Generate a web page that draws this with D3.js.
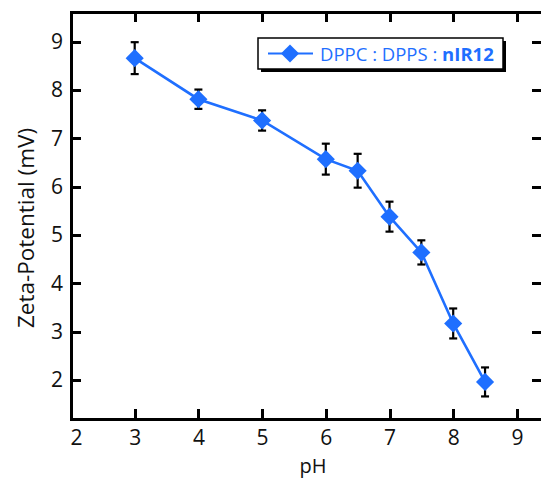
<!DOCTYPE html>
<html>
<head>
<meta charset="utf-8">
<script src="https://cdn.jsdelivr.net/npm/d3@7"></script>
<style>
  html, body { margin: 0; padding: 0; background: #fff; }
  svg text { font-family: "Open Sans", "DejaVu Sans", sans-serif; }
</style>
</head>
<body>
<svg id="chart" width="541" height="479"></svg>
<script>
/* ── Data ───────────────────────────────────────────── */
const pH     = [3, 4, 5, 6, 6.5, 7, 7.5, 8, 8.5];
const zeta   = [8.66, 7.81, 7.37, 6.57, 6.33, 5.38, 4.64, 3.17, 1.96];
const zetaSd = [0.33, 0.20, 0.21, 0.32, 0.35, 0.31, 0.25, 0.31, 0.30];
const xTicks = [2, 3, 4, 5, 6, 7, 8, 9];
const yTicks = [2, 3, 4, 5, 6, 7, 8, 9];
const seriesLabel = ['DPPC : DPPS : ', 'nIR12'];

const BLUE = '#1f6fff';
const TICK = 10;

const svg = d3.select('#chart');

const plot = { left: 71, right: 542, top: 12, bottom: 419 };

const x = d3.scaleLinear().domain([2, 2 + (plot.right - plot.left) / 63.7]).range([plot.left, plot.right]);
const y = d3.scaleLinear().domain([2, 9]).range([380, 41.7]);

const pts = pH.map((p, i) => ({ p, z: zeta[i], e: zetaSd[i] }));

/* ── Axis labels (d3 axes, no lines) ─────────────────── */
const styleAxis = g => {
  g.select('.domain').remove();
  g.selectAll('.tick line').remove();
  g.selectAll('.tick text').attr('fill', '#111').attr('font-size', 21);
};

svg.append('g')
  .attr('transform', `translate(0,${plot.bottom})`)
  .call(d3.axisBottom(x).tickValues(xTicks).tickSize(0).tickPadding(11).tickFormat(d3.format('d')))
  .call(styleAxis)
  .call(g => g.selectAll('.tick text').filter(d => d === 2).attr('text-anchor', 'start').attr('dx', -1));

svg.append('g')
  .attr('transform', `translate(${plot.left},0)`)
  .call(d3.axisLeft(y).tickValues(yTicks).tickSize(0).tickPadding(8).tickFormat(d3.format('d')))
  .call(styleAxis);

/* ── Inward ticks on all four sides ─────────────────── */
const tk = svg.append('g').attr('shape-rendering', 'crispEdges');
const tick = (x1, y1, x2, y2) =>
  tk.append('line')
    .attr('x1', Math.round(x1)).attr('y1', Math.round(y1))
    .attr('x2', Math.round(x2)).attr('y2', Math.round(y2))
    .attr('stroke', '#000').attr('stroke-width', 3);
xTicks.forEach(v => {
  tick(x(v), plot.bottom, x(v), plot.bottom - TICK);
  tick(x(v), plot.top, x(v), plot.top + TICK);
});
yTicks.forEach(v => {
  tick(plot.left, y(v), plot.left + TICK, y(v));
  tick(plot.right, y(v), plot.right - TICK, y(v));
});

// frame
svg.append('rect')
  .attr('x', plot.left).attr('y', plot.top)
  .attr('width', plot.right - plot.left).attr('height', plot.bottom - plot.top)
  .attr('shape-rendering', 'crispEdges')
  .attr('fill', 'none').attr('stroke', '#000').attr('stroke-width', 3);

/* ── Axis titles ────────────────────────────────────── */
svg.append('text')
  .attr('x', 313).attr('y', 473)
  .attr('text-anchor', 'middle').attr('font-size', 20).attr('fill', '#111')
  .text('pH');

svg.append('text')
  .attr('transform', `translate(34,228) rotate(-90)`)
  .attr('text-anchor', 'middle').attr('font-size', 22.5).attr('fill', '#111')
  .text('Zeta-Potential (mV)');

/* ── Series ─────────────────────────────────────────── */
const diamond = d3.symbol().type(d3.symbolDiamond2).size(210);

svg.append('path')
  .datum(pts)
  .attr('fill', 'none').attr('stroke', BLUE).attr('stroke-width', 2.6)
  .attr('d', d3.line().x(d => x(d.p)).y(d => y(d.z)));

const eb = svg.append('g').attr('stroke', '#000').attr('stroke-width', 2.2);
pts.forEach(d => {
  const cx = x(d.p), y1 = y(d.z + d.e), y2 = y(d.z - d.e);
  eb.append('line').attr('x1', cx).attr('x2', cx).attr('y1', y1).attr('y2', y2);
  eb.append('line').attr('x1', cx - 4).attr('x2', cx + 4).attr('y1', y1).attr('y2', y1);
  eb.append('line').attr('x1', cx - 4).attr('x2', cx + 4).attr('y1', y2).attr('y2', y2);
});

svg.append('g')
  .selectAll('path')
  .data(pts)
  .join('path')
  .attr('transform', d => `translate(${x(d.p)},${y(d.z)})`)
  .attr('d', diamond)
  .attr('fill', BLUE);

/* ── Legend ─────────────────────────────────────────── */
const lg = svg.append('g').attr('transform', 'translate(258,38)');
lg.append('rect').attr('x', 3).attr('y', 3).attr('width', 245).attr('height', 31).attr('fill', '#000');
lg.append('rect').attr('width', 245).attr('height', 31)
  .attr('fill', '#fff').attr('stroke', '#000').attr('stroke-width', 1.5);
lg.append('line').attr('x1', 10).attr('x2', 55).attr('y1', 15.5).attr('y2', 15.5)
  .attr('stroke', BLUE).attr('stroke-width', 2.2);
lg.append('path').attr('transform', 'translate(32,15.5)').attr('d', diamond).attr('fill', BLUE);
const lt = lg.append('text').attr('x', 62).attr('y', 22.5).attr('font-size', 18.5).attr('fill', BLUE);
lt.append('tspan').text(seriesLabel[0]);
lt.append('tspan').attr('font-weight', 'bold').text(seriesLabel[1]);
</script>
</body>
</html>
